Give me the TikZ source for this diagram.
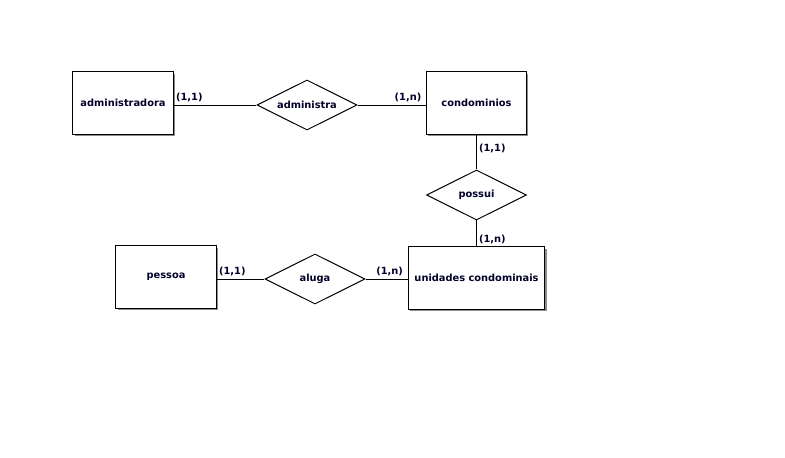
\documentclass[tikz,border=0pt]{standalone}
\usepackage{fontspec}
\setmainfont{DejaVu Sans}
\usetikzlibrary{shapes.geometric,shadows}
\definecolor{txtnavy}{RGB}{0,0,40}
\begin{document}
\begin{tikzpicture}[x=0.025cm, y=-0.025cm, line width=0.7pt,
  font=\fontsize{7}{8.5}\selectfont\bfseries, text=txtnavy,
  ent/.style={draw, rectangle, fill=white, minimum width=2.5cm, minimum height=1.55cm,
    drop shadow={shadow xshift=1.4pt, shadow yshift=-1.4pt, fill=black!45, opacity=1}},
  rel/.style={draw, diamond, aspect=2, inner sep=1pt, minimum width=2.5cm, minimum height=1.25cm},
  card/.style={inner sep=1.5pt}]

  \useasboundingbox (0,0) rectangle (785,458);

  % entities
  \node[ent] (adm) at (123,103) {administradora};
  \node[ent] (cond) at (476.5,103) {condominios};
  \node[ent, minimum width=3.42cm] (uni) at (476.5,278) {unidades condominais};
  \node[ent] (pes) at (166,277) {pessoa};

  % relationships
  \node[rel] (administra) at (307,105) {administra};
  \node[rel] (possui) at (476.5,195) {possui};
  \node[rel] (aluga) at (315,279) {aluga};

  % connectors
  \draw (adm.east |- administra.west) -- (administra.west);
  \draw (administra.east) -- (cond.west |- administra.east);
  \draw (cond.south) -- (possui.north);
  \draw (possui.south) -- (uni.north);
  \draw (pes.east |- aluga.west) -- (aluga.west);
  \draw (aluga.east) -- (uni.west |- aluga.east);

  % cardinalities
  \node[card, anchor=south west] at (adm.east |- administra.west) {(1,1)};
  \node[card, anchor=south east] at ([xshift=-1.5pt]cond.west |- administra.east) {(1,n)};
  \node[card, anchor=north west] at ([yshift=-5pt]cond.south) {(1,1)};
  \node[card, anchor=south west] at (uni.north) {(1,n)};
  \node[card, anchor=south west] at (pes.east |- aluga.west) {(1,1)};
  \node[card, anchor=south east] at ([xshift=-1.5pt]uni.west |- aluga.east) {(1,n)};

\end{tikzpicture}
\end{document}
